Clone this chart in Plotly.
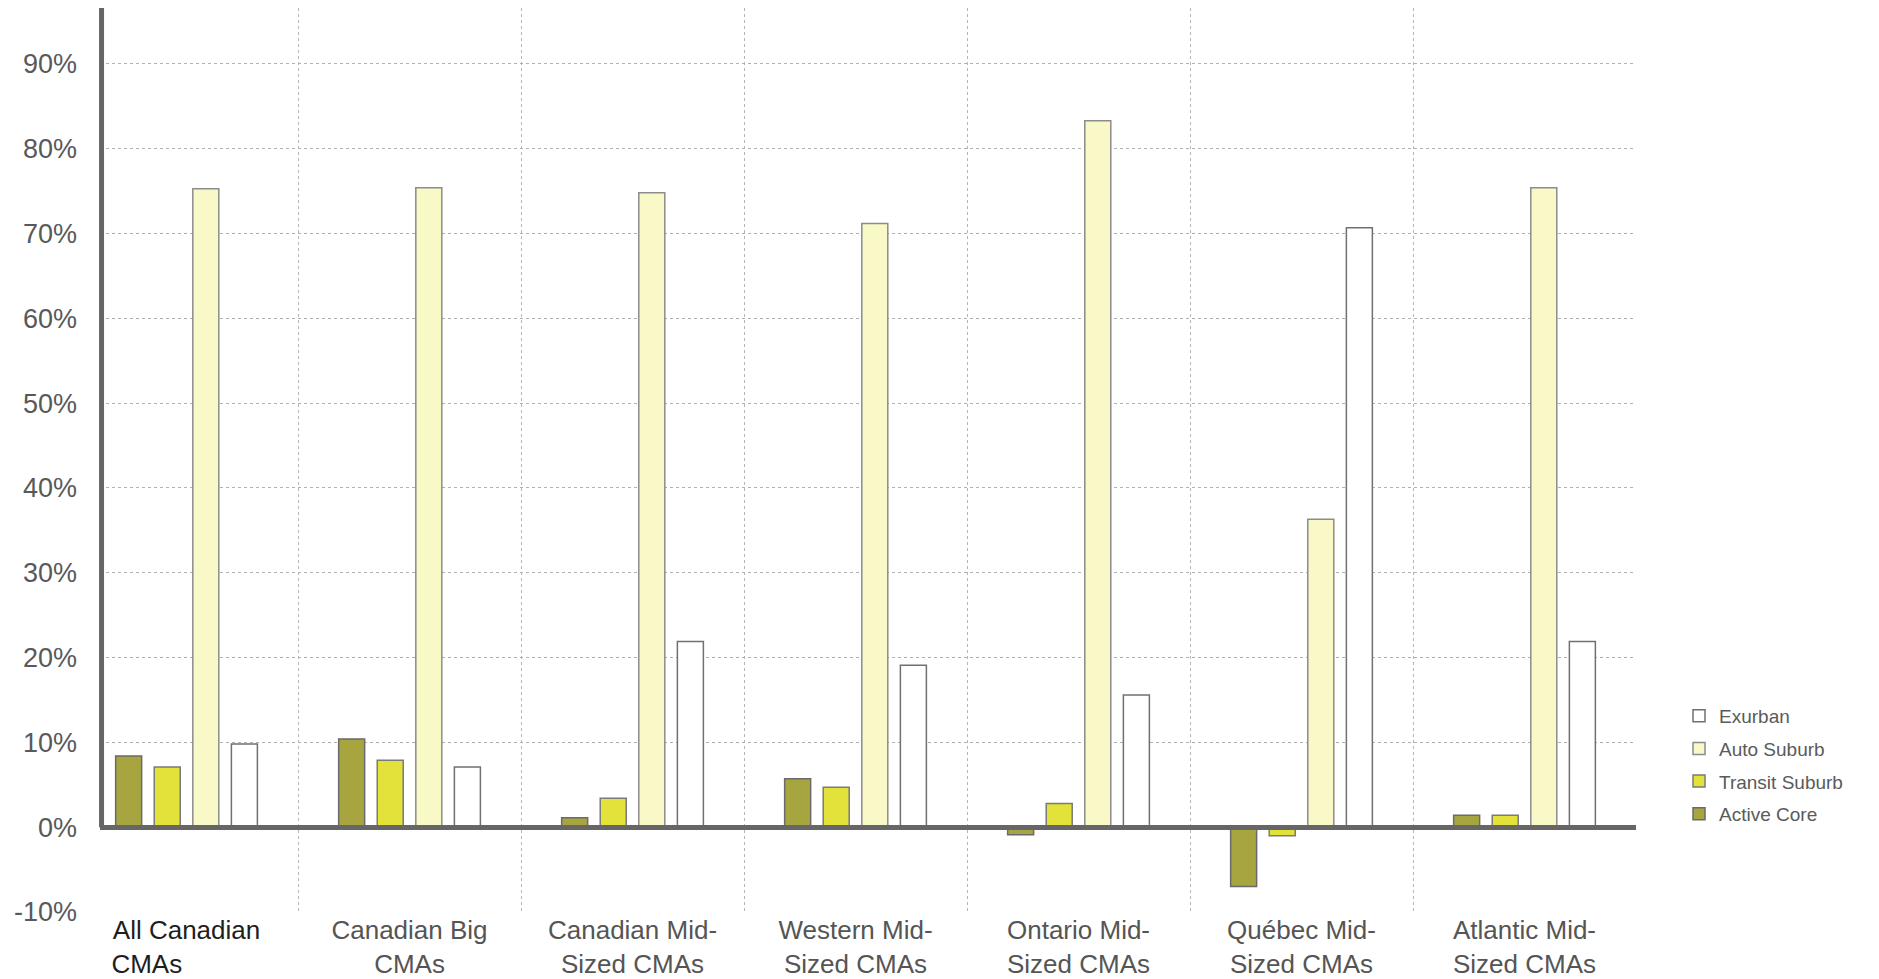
import plotly.graph_objects as go

categories = [
    "All Canadian CMAs",
    "Canadian Big CMAs",
    "Canadian Mid-Sized CMAs",
    "Western Mid-Sized CMAs",
    "Ontario Mid-Sized CMAs",
    "Québec Mid-Sized CMAs",
    "Atlantic Mid-Sized CMAs",
]
tick_labels = [
    '<span style="color:#1e1e1e">All Canadian<br>CMAs' + "&nbsp;" * 11 + "</span>",
    "Canadian Big<br>CMAs",
    "Canadian Mid-<br>Sized CMAs",
    "Western Mid-<br>Sized CMAs",
    "Ontario Mid-<br>Sized CMAs",
    "Québec Mid-<br>Sized CMAs",
    "Atlantic Mid-<br>Sized CMAs",
]

active_core = [8.4, 10.4, 1.1, 5.7, -0.9, -7.0, 1.4]
transit_suburb = [7.1, 7.9, 3.4, 4.7, 2.8, -1.0, 1.4]
auto_suburb = [75.3, 75.4, 74.8, 71.2, 83.3, 36.3, 75.4]
exurban = [9.8, 7.1, 21.9, 19.1, 15.6, 70.7, 21.9]

y_tick_values = [-10, 0, 10, 20, 30, 40, 50, 60, 70, 80, 90]
y_tick_labels = ["-10%", "0%", "10%", "20%", "30%", "40%", "50%", "60%", "70%", "80%", "90%"]
y_range = [-10, 96.6]

# name, values, fill, outline, legend rank (Exurban listed first)
series = [
    ("Active Core", active_core, "#a6a540", "#6a6a6a", 4),
    ("Transit Suburb", transit_suburb, "#e2e23b", "#7a7a7a", 3),
    ("Auto Suburb", auto_suburb, "#f9f8c7", "#8c8c8c", 2),
    ("Exurban", exurban, "#ffffff", "#707070", 1),
]

FONT = "Liberation Sans, Arial, sans-serif"

fig = go.Figure()
for name, vals, fill, edge, rank in series:
    fig.add_trace(go.Bar(
        x=categories, y=vals, name=name, legendgroup=name, legendrank=rank,
        marker=dict(color=fill, line=dict(color=edge, width=1.5)),
    ))

fig.update_layout(
    width=1879, height=979,
    margin=dict(l=100, r=243, t=8, b=67),
    paper_bgcolor="white", plot_bgcolor="white",
    barmode="group", bargap=0.308, bargroupgap=0.326,
    font=dict(family=FONT, color="#595959"),
    showlegend=True,
    legend=dict(
        traceorder="grouped", tracegroupgap=5,
        x=1.028, xanchor="left", y=0.238, yanchor="top",
        font=dict(size=19, color="#5a5a5a", family=FONT),
        bgcolor="rgba(0,0,0,0)",
    ),
    xaxis=dict(
        type="category", range=[-0.388, 6.5],
        tickmode="array", tickvals=categories, ticktext=tick_labels,
        tickson="boundaries", ticks="",
        showgrid=True, gridcolor="#b5b5b5", griddash="dot", gridwidth=1,
        showline=False, zeroline=False,
        tickfont=dict(size=26, color="#555555", family=FONT),
        automargin=False,
    ),
    yaxis=dict(
        range=y_range, tickmode="array", tickvals=y_tick_values, ticktext=y_tick_labels,
        showgrid=True, gridcolor="#b0b0b0", griddash="dot", gridwidth=1,
        zeroline=True, zerolinecolor="#666666", zerolinewidth=5,
        showline=False, ticks="", ticklabelstandoff=22,
        tickfont=dict(size=27, color="#595959", family=FONT),
        automargin=False,
    ),
)

try:
    fig.update_yaxes(zerolinelayer="above traces")
except Exception:
    pass

# left axis line from 0 up to the top of the plot
fig.add_shape(type="line", xref="paper", yref="y", x0=0.001, x1=0.001,
              y0=0, y1=y_range[1], line=dict(color="#666666", width=5), layer="above")

fig.write_html(
    "out.html",
    config={"displayModeBar": False},
    post_script="document.body.style.margin='0';document.body.style.overflow='hidden';",
)
